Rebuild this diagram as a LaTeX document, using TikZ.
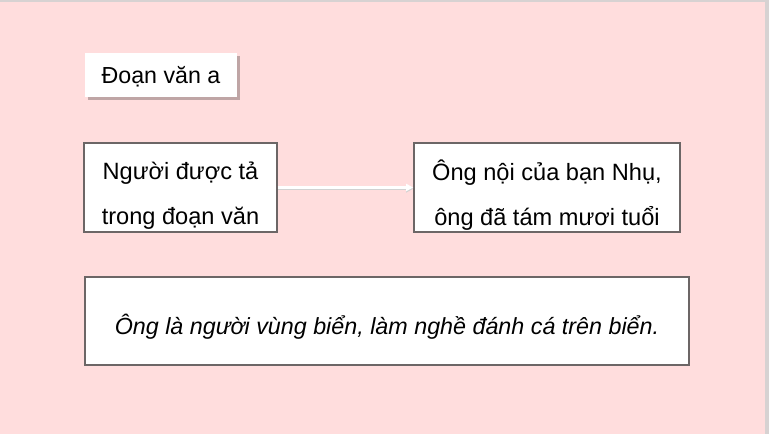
\documentclass[tikz,border=0pt]{standalone}
\usepackage{fontspec}
\setmainfont{Liberation Sans}
\usetikzlibrary{shadows,arrows.meta}
\definecolor{bgpink}{RGB}{255,221,221}
\definecolor{boxborder}{RGB}{108,102,102}
\definecolor{edgegray}{RGB}{215,210,210}
\begin{document}
\begin{tikzpicture}[x=1pt,y=-1pt,
  framebox/.style={draw=boxborder,line width=1.6pt,fill=white,inner sep=0pt},
  boxtext/.style={inner sep=0pt,align=center,font=\fontsize{23.6}{45}\selectfont},
  titlebox/.style={fill=white,inner sep=0pt,
    drop shadow={shadow xshift=2.5pt,shadow yshift=-2.5pt,fill=black,opacity=0.25}},
  arrowline/.style={draw=white,line width=2.2pt,-{Triangle[length=7pt,width=7pt]}},
  arrowshade/.style={draw=black!18,line width=2.2pt,-{Triangle[length=7pt,width=7pt]}}]
\useasboundingbox (0,0) rectangle (769,434);
\fill[bgpink] (0,0) rectangle (769,434);
\fill[edgegray] (0,0) rectangle (769,2);
\fill[edgegray] (765,0) rectangle (769,434);

\node[titlebox,minimum width=152pt,minimum height=44pt] (title) at (161,75) {};
\node[boxtext,font=\fontsize{23.2}{28}\selectfont] (titletext) at ([yshift=-2pt]title.center) {Đoạn văn a};

\node[framebox,minimum width=193pt,minimum height=89pt] (left) at (180.5,187.5) {};
\node[boxtext] (lefttext) at ([yshift=-8pt]left.center) {Người được tả\\trong đoạn văn};
\node[framebox,minimum width=266pt,minimum height=89pt] (right) at (547,187.5) {};
\node[boxtext] (righttext) at ([yshift=-8pt]right.center) {Ông nội của bạn Nhụ,\\ông đã tám mươi tuổi};
\node[framebox,minimum width=604pt,minimum height=88pt] (bottom) at (387,321) {};
\node[boxtext,font=\fontsize{23.3}{28}\selectfont\itshape] (bottomtext) at ([yshift=-6pt]bottom.center) {Ông là người vùng biển, làm nghề đánh cá trên biển.};

\draw[arrowshade,transform canvas={yshift=-1.3pt}] (left.east) -- (right.west);
\draw[arrowline] (left.east) -- (right.west);
\end{tikzpicture}
\end{document}
